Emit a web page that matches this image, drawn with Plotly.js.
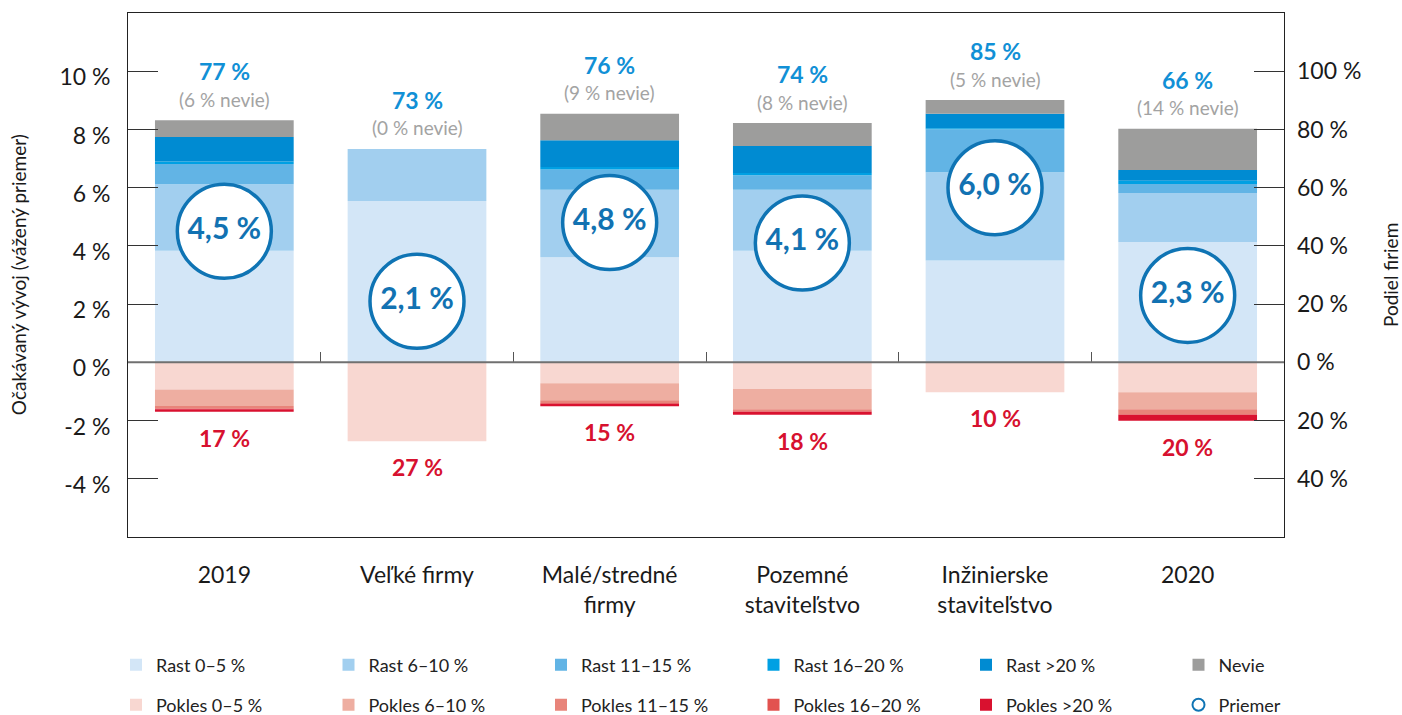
<!DOCTYPE html>
<html>
<head>
<meta charset="utf-8">
<script src="https://cdn.plot.ly/plotly-3.0.1.min.js"></script>
<style>html,body{margin:0;padding:0;background:#fff;}#chart{width:1402px;height:715px;}</style>
</head>
<body>
<div id="chart"></div>
<script>
// ---- data (share of firms, %) ----
const categories = ['2019', 'Veľké firmy', 'Malé/stredné<br>firmy', 'Pozemné<br>staviteľstvo', 'Inžinierske<br>staviteľstvo', '2020'];

const rast0_5    = [38.3, 55.4, 36.1, 38.3, 35.0, 41.3];
const rast6_10   = [22.9, 17.9, 23.2, 21.0, 30.3, 16.9];
const rast11_15  = [6.9, 0, 6.9, 5.0, 14.8, 3.1];
const rast16_20  = [0.9, 0, 0.9, 0.7, 0.3, 1.1];
const rastOver20 = [8.4, 0, 9.2, 9.3, 5.0, 3.7];
const nevie      = [5.8, 0, 9.1, 7.9, 4.7, 14.1];

const pokles0_5    = [9.3, 27.1, 7.2, 9.2, 10.3, 10.3];
const pokles6_10   = [5.7, 0, 5.8, 6.9, 0, 5.8];
const pokles11_15  = [0.9, 0, 1.0, 0.7, 0, 1.7];
const pokles16_20  = [0.2, 0, 0.2, 0.2, 0, 0.2];
const poklesOver20 = [0.9, 0, 0.9, 1.0, 0, 2.1];

// printed labels
const rastTotalLabel   = [77, 73, 76, 74, 85, 66];
const nevieLabel       = [6, 0, 9, 8, 5, 14];
const poklesTotalLabel = [17, 27, 15, 18, 10, 20];
const priemer          = [4.5, 2.1, 4.8, 4.1, 6.0, 2.3];   // weighted mean, % (left axis)

// axis tick labels
const leftTickVals  = [-4, -2, 0, 2, 4, 6, 8, 10];
const leftTickText  = ['-4 %', '-2 %', '0 %', '2 %', '4 %', '6 %', '8 %', '10 %'];
const rightTickVals = [-40, -20, 0, 20, 40, 60, 80, 100];
const rightTickText = ['40 %', '20 %', '0 %', '20 %', '40 %', '60 %', '80 %', '100 %'];

// ---- styling ----
const FONT = 'Lato, "Source Sans Pro", "Open Sans", sans-serif';
const TXT = '#1a1a1a';
const BAR_W = 0.72;

const posSeries = [
  {name: 'Rast 0–5 %',   y: rast0_5,    color: '#d3e6f7', legend: 'legend'},
  {name: 'Rast 6–10 %',  y: rast6_10,   color: '#a2cfef', legend: 'legend'},
  {name: 'Rast 11–15 %', y: rast11_15,  color: '#62b4e5', legend: 'legend'},
  {name: 'Rast 16–20 %', y: rast16_20,  color: '#00a0e3', legend: 'legend'},
  {name: 'Rast >20 %',   y: rastOver20, color: '#008bd2', legend: 'legend'},
  {name: 'Nevie',        y: nevie,      color: '#9d9d9c', legend: 'legend3'}
];
const negSeries = [
  {name: 'Pokles 0–5 %',   y: pokles0_5,    color: '#f8d7d1'},
  {name: 'Pokles 6–10 %',  y: pokles6_10,   color: '#eeaea1'},
  {name: 'Pokles 11–15 %', y: pokles11_15,  color: '#e8847a'},
  {name: 'Pokles 16–20 %', y: pokles16_20,  color: '#e2524f'},
  {name: 'Pokles >20 %',   y: poklesOver20, color: '#d9112f'}
];

const traces = [];
// bars on primary y (share of firms, right side)
posSeries.forEach(s => traces.push({
  type: 'bar', name: s.name, x: categories, y: s.y, yaxis: 'y',
  width: BAR_W, marker: {color: s.color, line: {width: 0}}, legend: s.legend, hoverinfo: 'skip'
}));
negSeries.forEach(s => traces.push({
  type: 'bar', name: s.name, x: categories, y: s.y.map(v => -v), yaxis: 'y',
  width: BAR_W, marker: {color: s.color, line: {width: 0}}, legend: 'legend2', hoverinfo: 'skip'
}));
// mean circles on overlaying y2 (expected development, left side)
traces.push({
  type: 'scatter', mode: 'markers', name: 'Priemer', x: categories, y: priemer, yaxis: 'y2',
  marker: {symbol: 'circle', size: 94, color: '#ffffff', line: {color: '#0f74b4', width: 3.5}},
  legend: 'legend4', hoverinfo: 'skip', cliponaxis: false
});
traces.push({
  type: 'scatter', mode: 'text', showlegend: false, x: categories, y: priemer, yaxis: 'y2',
  text: priemer.map(v => '<b>' + v.toFixed(1).replace('.', ',') + ' %</b>'),
  textposition: 'middle center',
  textfont: {family: FONT, size: 30, color: '#1272b2'},
  hoverinfo: 'skip', cliponaxis: false
});
// invisible trace so that the boundary-tick axis x2 is drawn
traces.push({type: 'scatter', x: [0], y: [0], xaxis: 'x2', yaxis: 'y', mode: 'markers',
  marker: {opacity: 0, size: 1}, showlegend: false, hoverinfo: 'skip'});

// annotations for totals
const posTop = categories.map((c, i) => posSeries.reduce((a, s) => a + s.y[i], 0));
const negBottom = categories.map((c, i) => -negSeries.reduce((a, s) => a + s.y[i], 0));
const annotations = [];
categories.forEach((c, i) => {
  annotations.push({x: i, y: posTop[i], xref: 'x', yref: 'y', yanchor: 'middle', yshift: 49,
    text: '<b>' + rastTotalLabel[i] + ' %</b>', showarrow: false,
    font: {family: FONT, size: 23, color: '#1190d6'}});
  annotations.push({x: i, y: posTop[i], xref: 'x', yref: 'y', yanchor: 'middle', yshift: 21,
    text: '(' + nevieLabel[i] + ' % nevie)', showarrow: false,
    font: {family: FONT, size: 19, color: '#a3a3a3'}});
  annotations.push({x: i, y: negBottom[i], xref: 'x', yref: 'y', yanchor: 'middle', yshift: -26,
    text: '<b>' + poklesTotalLabel[i] + ' %</b>', showarrow: false,
    font: {family: FONT, size: 23, color: '#d7112f'}});
});
annotations.push({xref: 'paper', yref: 'paper', x: -0.095, y: 0.5, xanchor: 'center', yanchor: 'middle',
  textangle: -90, showarrow: false,
  text: 'Očakávaný vývoj (vážený priemer)', font: {family: FONT, size: 19, color: TXT}});
annotations.push({xref: 'paper', yref: 'paper', x: 1.0917, y: 0.5, xanchor: 'center', yanchor: 'middle',
  textangle: -90, showarrow: false,
  text: 'Podiel firiem', font: {family: FONT, size: 19, color: TXT}});

const legendBase = {
  orientation: 'h', xref: 'container', yref: 'container', xanchor: 'left', yanchor: 'middle',
  entrywidth: 167.5, entrywidthmode: 'pixels', itemsizing: 'constant',
  font: {family: FONT, size: 18, color: '#222'}, bgcolor: 'rgba(0,0,0,0)', traceorder: 'normal',
  itemclick: false, itemdoubleclick: false
};
const ROW1 = 1 - 665 / 715, ROW2 = 1 - 705 / 715;
const COL1 = 116 / 1402, COL6 = (116 + 5 * 212.5) / 1402;

const layout = {
  width: 1402, height: 715,
  margin: {l: 128, r: 118, t: 13, b: 178},
  paper_bgcolor: '#ffffff', plot_bgcolor: '#ffffff',
  barmode: 'relative',
  font: {family: FONT, color: TXT},
  showlegend: true,
  legend:  Object.assign({}, legendBase, {x: COL1, y: ROW1}),
  legend2: Object.assign({}, legendBase, {x: COL1, y: ROW2}),
  legend3: Object.assign({}, legendBase, {x: COL6, y: ROW1}),
  legend4: Object.assign({}, legendBase, {x: COL6, y: ROW2}),
  xaxis: {
    type: 'category', range: [-0.5, 5.5], fixedrange: true,
    showline: true, mirror: true, linecolor: '#222', linewidth: 1,
    ticks: '', showgrid: false, zeroline: false,
    tickfont: {family: FONT, size: 23, color: TXT}, ticklabelstandoff: 17
  },
  xaxis2: {
    overlaying: 'x', anchor: 'free', position: 1 / 3, side: 'top',
    range: [-0.5, 5.5], tickvals: [0.5, 1.5, 2.5, 3.5, 4.5],
    ticks: 'outside', ticklen: 10, tickcolor: '#555', tickwidth: 1,
    showticklabels: false, showline: false, showgrid: false, zeroline: false, fixedrange: true
  },
  // share of firms (right)
  yaxis: {
    side: 'right', range: [-60, 120],
    tickvals: rightTickVals, ticktext: rightTickText,
    ticks: 'inside', ticklen: 30, tickcolor: '#333', tickwidth: 1,
    showline: false, showgrid: false, zeroline: false, fixedrange: true,
    tickfont: {family: FONT, size: 23, color: TXT}, ticklabelstandoff: 12
  },
  // expected development (left)
  yaxis2: {
    overlaying: 'y', side: 'left', range: [-6, 12], tickvals: leftTickVals, ticktext: leftTickText,
    ticks: 'inside', ticklen: 30, tickcolor: '#333', tickwidth: 1,
    showline: true, mirror: true, linecolor: '#222', linewidth: 1,
    showgrid: false, zeroline: false, fixedrange: true,
    tickfont: {family: FONT, size: 23, color: TXT}, ticklabelstandoff: 12, ticklabelshift: 6
  },
  shapes: [{type: 'line', xref: 'paper', yref: 'y', x0: 0, x1: 1, y0: 0, y1: 0,
    line: {color: '#707070', width: 2}, layer: 'above'}],
  annotations: annotations
};

Plotly.newPlot('chart', traces, layout, {displayModeBar: false, staticPlot: true});
</script>
</body>
</html>
